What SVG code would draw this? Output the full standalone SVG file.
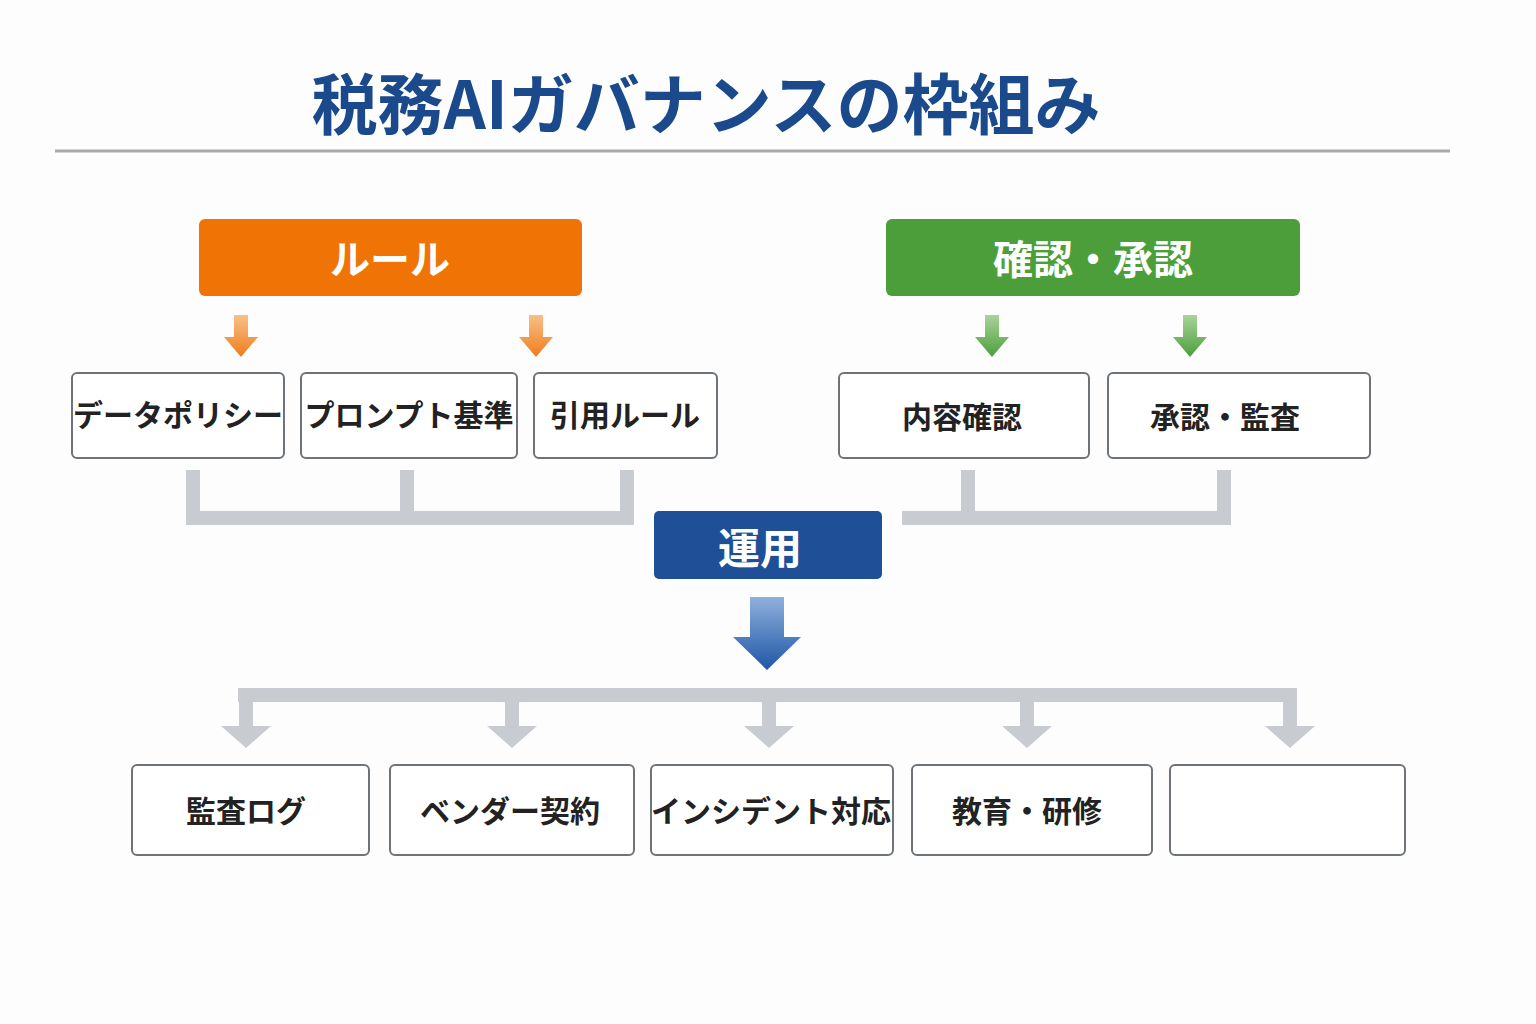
<svg xmlns="http://www.w3.org/2000/svg" width="1536" height="1024" viewBox="0 0 1536 1024">
<defs>
<linearGradient id="og" x1="0" y1="0" x2="0" y2="1"><stop offset="0" stop-color="#f7c08a"/><stop offset="1" stop-color="#ef7d1a"/></linearGradient>
<linearGradient id="gg" x1="0" y1="0" x2="0" y2="1"><stop offset="0" stop-color="#a9d39a"/><stop offset="1" stop-color="#4c9e3a"/></linearGradient>
<linearGradient id="bg" x1="0" y1="0" x2="0" y2="1"><stop offset="0" stop-color="#8fb0dc"/><stop offset="1" stop-color="#1f56a6"/></linearGradient>
<style>
.t{font-family:"Noto Sans CJK JP","Noto Sans",sans-serif;font-weight:700;text-anchor:middle;dominant-baseline:central}
.box{fill:#fff;stroke:#6e7378;stroke-width:2}
.lbl{font-size:30px;fill:#222}
.con{fill:none;stroke:#c8ccd0;stroke-width:14}
.ah{fill:#c8ccd0}
</style>
</defs>
<rect width="1536" height="1024" fill="#fdfdfd"/>
<text class="t" x="706" y="100" font-size="66" fill="#1b4a8c">税務AIガバナンスの枠組み</text>
<line x1="55" y1="151" x2="1450" y2="151" stroke="#a8abae" stroke-width="3"/>
<g id="rule"><rect x="199" y="219" width="383" height="77" rx="6" fill="#f07305"/><text class="t" x="390" y="257" font-size="40" fill="#fff">ルール</text></g>
<g id="kakunin"><rect x="886" y="219" width="414" height="77" rx="6" fill="#4c9e3a"/><text class="t" x="1093" y="257" font-size="40" fill="#fff">確認・承認</text></g>
<g id="n1"><rect class="box" x="72" y="373" width="212" height="85" rx="5"/><text class="t lbl" x="178" y="413">データポリシー</text></g>
<g id="n2"><rect class="box" x="301" y="373" width="216" height="85" rx="5"/><text class="t lbl" x="409" y="413">プロンプト基準</text></g>
<g id="n3"><rect class="box" x="534" y="373" width="183" height="85" rx="5"/><text class="t lbl" x="625" y="413">引用ルール</text></g>
<g id="n4"><rect class="box" x="839" y="373" width="250" height="85" rx="5"/><text class="t lbl" x="962" y="415">内容確認</text></g>
<g id="n5"><rect class="box" x="1108" y="373" width="262" height="85" rx="5"/><text class="t lbl" x="1225" y="415">承認・監査</text></g>
<g id="unyo"><rect x="654" y="511" width="228" height="68" rx="5" fill="#1f4f96"/><text class="t" x="760" y="545" font-size="42" fill="#fff">運用</text></g>
<g id="b1"><rect class="box" x="132" y="765" width="237" height="90" rx="5"/><text class="t lbl" x="246" y="809">監査ログ</text></g>
<g id="b2"><rect class="box" x="390" y="765" width="244" height="90" rx="5"/><text class="t lbl" x="510" y="809">ベンダー契約</text></g>
<g id="b3"><rect class="box" x="651" y="765" width="242" height="90" rx="5"/><text class="t lbl" x="771" y="809">インシデント対応</text></g>
<g id="b4"><rect class="box" x="912" y="765" width="240" height="90" rx="5"/><text class="t lbl" x="1027" y="809">教育・研修</text></g>
<g id="b5"><rect class="box" x="1170" y="765" width="235" height="90" rx="5"/></g>
<g id="connectors">
<path d="M234 315h14v22h10l-17 20l-17-20h10z" fill="url(#og)"/>
<path d="M529 315h14v22h10l-17 20l-17-20h10z" fill="url(#og)"/>
<path d="M985 315h14v22h10l-17 20l-17-20h10z" fill="url(#gg)"/>
<path d="M1183 315h14v22h10l-17 20l-17-20h10z" fill="url(#gg)"/>
<path class="con" d="M193 470V518H627V470M407 470V518"/>
<path class="con" d="M902 518H1224V470M968 470V518"/>
<path d="M750 597h34v40h17l-34 33l-34-33h17z" fill="url(#bg)"/>
<path class="con" d="M238 695H1297"/>
<path class="con" d="M246 695V728M512 695V728M769 695V728M1027 695V728M1290 695V728"/>
<path class="ah" d="M221 726h50l-25 22z M487 726h50l-25 22z M744 726h50l-25 22z M1002 726h50l-25 22z M1265 726h50l-25 22z"/>
</g>
</svg>
